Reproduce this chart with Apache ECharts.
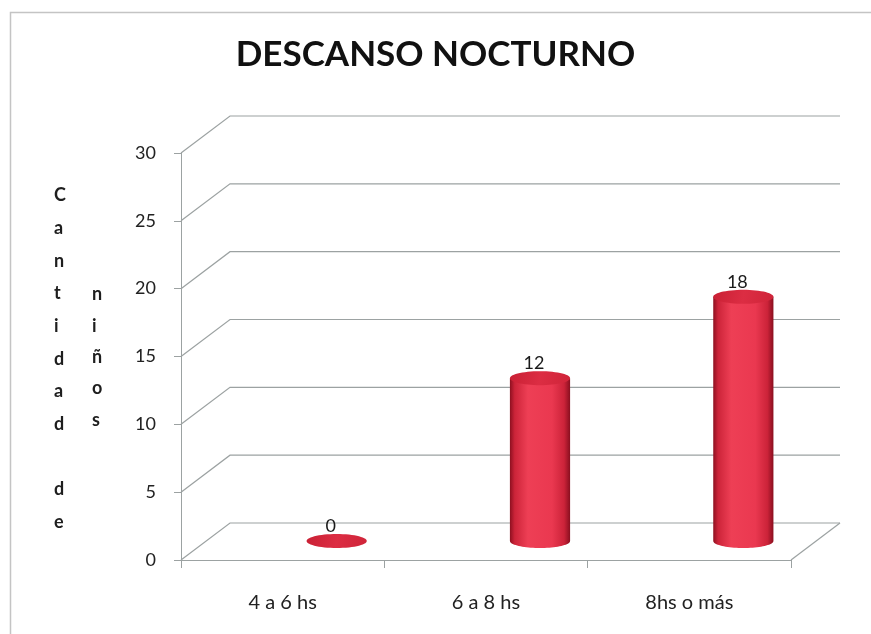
<!DOCTYPE html>
<html>
<head>
<meta charset="utf-8">
<script src="https://cdn.jsdelivr.net/npm/echarts@6/dist/echarts.min.js"></script>
<style>
  html, body { margin: 0; padding: 0; background: #ffffff; }
  #chart { width: 871px; height: 634px; }
</style>
</head>
<body>
<div id="chart"></div>
<script>
// Data
const categories = ['4 a 6 hs', '6 a 8 hs', '8hs o más'];
const counts = [0, 12, 18];
const yTicks = [0, 5, 10, 15, 20, 25, 30];
const titleText = 'DESCANSO NOCTURNO';
const yNameCol1 = ['C', 'a', 'n', 't', 'i', 'd', 'a', 'd', '', 'd', 'e'];
const yNameCol2 = ['n', 'i', 'ñ', 'o', 's'];

// Pseudo-3D styling constants
const DEPTH_X = 49, DEPTH_Y = -37;     // back wall offset
const BAR_X = 54, BAR_Y = -19;         // cylinder placement inside the box
const ELL_RY = 7;                      // cylinder ellipse half-height
const GRID_COLOR = '#9ca2a2';
const FONT = 'Lato, "Open Sans", sans-serif';

function ellipsePoints(cx, cy, rx, ry, a0, a1, n) {
  const pts = [];
  for (let i = 0; i <= n; i++) {
    const a = a0 + (a1 - a0) * i / n;
    pts.push([cx + rx * Math.cos(a), cy + ry * Math.sin(a)]);
  }
  return pts;
}

const chart = echarts.init(document.getElementById('chart'));

const option = {
  backgroundColor: '#ffffff',
  animation: false,
  title: {
    text: titleText,
    left: 'center',
    top: 32,
    textStyle: { fontFamily: FONT, fontWeight: 'bold', fontSize: 35, color: '#111111' }
  },
  graphic: [
    {
      type: 'rect',
      shape: { x: 10.5, y: 12.5, width: 900, height: 700 },
      style: { fill: null, stroke: '#c4c4c4', lineWidth: 1.5 },
      silent: true
    },
    {
      type: 'text',
      left: 54, top: 179,
      style: {
        text: yNameCol1.join('\n'),
        fontFamily: FONT, fontWeight: 'bold', fontSize: 18,
        lineHeight: 32.7, fill: '#1e1e1e', align: 'center'
      }
    },
    {
      type: 'text',
      left: 92, top: 279,
      style: {
        text: yNameCol2.join('\n'),
        fontFamily: FONT, fontWeight: 'bold', fontSize: 18,
        lineHeight: 31.3, fill: '#1e1e1e', align: 'center'
      }
    }
  ],
  grid: { left: 181, top: 153, width: 610, height: 407 },
  xAxis: {
    type: 'category',
    data: categories,
    boundaryGap: true,
    axisLine: { lineStyle: { color: GRID_COLOR, width: 1 } },
    axisTick: { show: true, length: 8, lineStyle: { color: GRID_COLOR } },
    axisLabel: { margin: 33, fontSize: 20, color: '#222222', fontFamily: FONT },
    splitLine: { show: false }
  },
  yAxis: {
    type: 'value',
    min: 0, max: 30, interval: 5,
    axisLine: { show: true, lineStyle: { color: GRID_COLOR, width: 1 } },
    axisTick: { show: true, length: 7, lineStyle: { color: GRID_COLOR } },
    axisLabel: { margin: 25, fontSize: 18, color: '#222222', fontFamily: FONT },
    splitLine: { show: false }
  },
  series: [
    {
      // back wall / side wall grid and floor of the 3D box
      type: 'custom',
      silent: true,
      z: 1,
      data: yTicks.map(v => [0, v]),
      encode: { x: 0, y: 1 },
      renderItem: function (params, api) {
        const cs = params.coordSys;
        const v = api.value(1);
        const y = api.coord([0, v])[1];
        const x0 = cs.x, x1 = cs.x + cs.width;
        const style = { stroke: GRID_COLOR, fill: null, lineWidth: 1.2 };
        const children = [{
          type: 'polyline',
          shape: { points: [[x0, y], [x0 + DEPTH_X, y + DEPTH_Y], [x1 + DEPTH_X, y + DEPTH_Y]] },
          style: style
        }];
        if (v === 0) {
          children.push({
            type: 'line',
            shape: { x1: x1, y1: y, x2: x1 + DEPTH_X, y2: y + DEPTH_Y },
            style: style
          });
        }
        return { type: 'group', children: children };
      }
    },
    {
      // cylinders
      type: 'custom',
      z: 5,
      data: counts.map((v, i) => [i, v]),
      encode: { x: 0, y: 1 },
      renderItem: function (params, api) {
        const idx = api.value(0);
        const v = api.value(1);
        const base = api.coord([idx, 0]);
        const top = api.coord([idx, v]);
        const bw = api.size([1, 0])[0];
        const rx = bw * 0.148;
        const cx = base[0] + BAR_X;
        const by = base[1] + BAR_Y;
        const ty = top[1] + BAR_Y;
        const children = [];
        const bodyFill = new echarts.graphic.LinearGradient(0, 0, 1, 0, [
          { offset: 0, color: '#8e1020' },
          { offset: 0.08, color: '#cc2439' },
          { offset: 0.3, color: '#ee3f55' },
          { offset: 0.7, color: '#ea3850' },
          { offset: 0.9, color: '#cc2339' },
          { offset: 1, color: '#8a0f1f' }
        ]);
        if (v > 0) {
          const pts = [[cx - rx, ty]]
            .concat(ellipsePoints(cx, by, rx, ELL_RY, Math.PI, 0, 40))
            .concat([[cx + rx, ty]]);
          children.push({ type: 'polygon', shape: { points: pts }, style: { fill: bodyFill } });
        }
        children.push({
          type: 'polygon',
          shape: { points: ellipsePoints(cx, ty, rx, ELL_RY, 0, Math.PI * 2, 60) },
          style: {
            fill: new echarts.graphic.LinearGradient(0, 0, 1, 1, [
              { offset: 0, color: '#c92034' },
              { offset: 0.5, color: '#dc2d43' },
              { offset: 1, color: '#cf2439' }
            ])
          }
        });
        children.push({
          type: 'text',
          style: {
            text: String(v),
            x: cx - 6, y: ty - 15,
            align: 'center', verticalAlign: 'middle',
            fontFamily: FONT, fontSize: 18, fill: '#1a1a1a'
          }
        });
        return { type: 'group', children: children };
      }
    }
  ]
};

chart.setOption(option);
</script>
</body>
</html>
